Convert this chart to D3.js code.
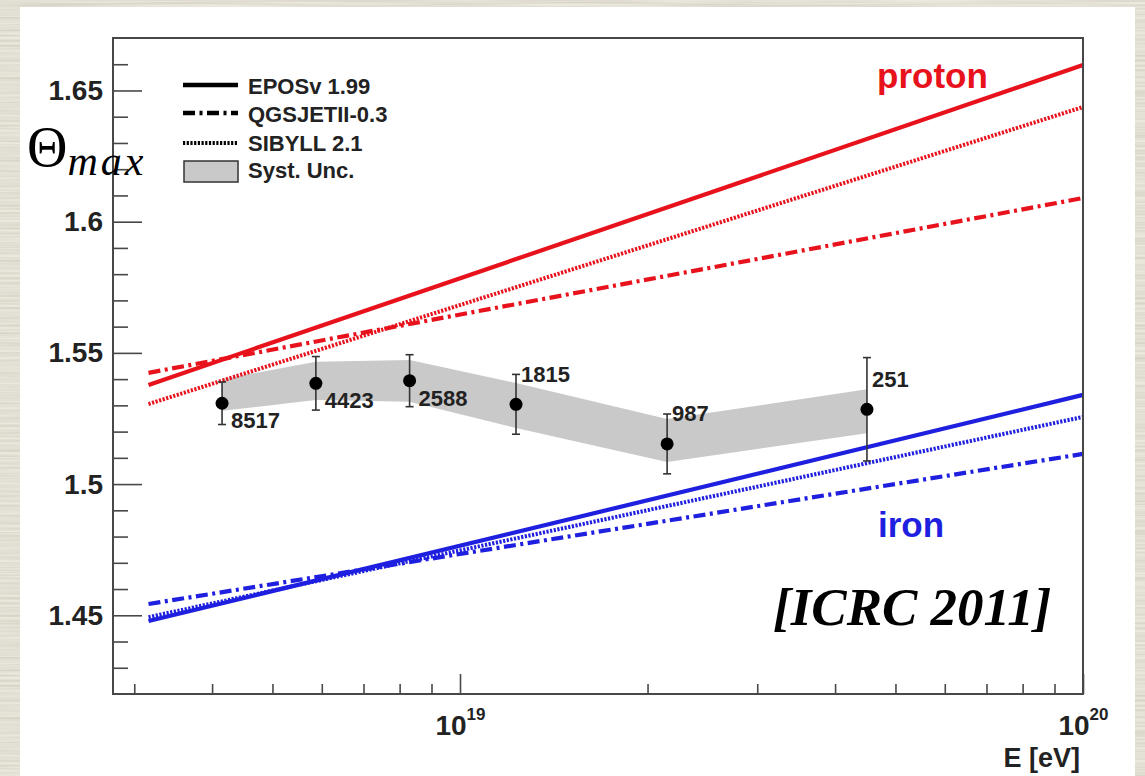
<!DOCTYPE html>
<html>
<head>
<meta charset="utf-8">
<script src="https://cdn.jsdelivr.net/npm/d3@7"></script>
<style>
  html, body { margin: 0; padding: 0; background: #e9e6dc; }
  svg { display: block; }
</style>
</head>
<body>
<svg id="chart" width="1145" height="776"></svg>
<script>
// Measured Theta_max per energy bin, with statistical and systematic uncertainties
const energies    = [4.15e18, 5.87e18, 8.3e18, 1.23e19, 2.15e19, 4.5e19];
const thetaMax    = [1.5308, 1.5384, 1.5394, 1.5304, 1.5153, 1.5285];
const statErr     = [0.0081, 0.0102, 0.0099, 0.0114, 0.0114, 0.0197];
const eventCounts = ["8517", "4423", "2588", "1815", "987", "251"];
const systLow     = [1.5279, 1.5320, 1.5314, 1.5214, 1.5084, 1.5194];
const systHigh    = [1.5400, 1.5466, 1.5473, 1.5385, 1.5248, 1.5361];

// Model predictions, straight in log E between the two end energies
const modelEnergy   = [Math.pow(10, 18.5), 1e20];
const protonEPOS    = [1.5378, 1.6597];
const protonQGSJET  = [1.5424, 1.6090];
const protonSIBYLL  = [1.5305, 1.6437];
const ironEPOS      = [1.4478, 1.5340];
const ironQGSJET    = [1.4543, 1.5115];
const ironSIBYLL    = [1.4493, 1.5256];

const legendLabels   = ["EPOSv 1.99", "QGSJETII-0.3", "SIBYLL 2.1", "Syst. Unc."];
const yMajorTicks    = [1.45, 1.5, 1.55, 1.6, 1.65];
const yTickLabels    = ["1.45", "1.5", "1.55", "1.6", "1.65"];
const yMinorTicks    = [1.43, 1.44, 1.46, 1.47, 1.48, 1.49, 1.51, 1.52, 1.53, 1.54,
                        1.56, 1.57, 1.58, 1.59, 1.61, 1.62, 1.63, 1.64, 1.66];
const xMajorTicks    = [1e19, 1e20];
const xTickExponents = ["19", "20"];
const xMinorTicks    = [3e18, 4e18, 5e18, 6e18, 7e18, 8e18, 9e18,
                        2e19, 3e19, 4e19, 5e19, 6e19, 7e19, 8e19, 9e19];

const RED = "#e8121c", BLUE = "#1f1fe0", INK = "#222", FRAME = "#484848";
const SANS = "'Liberation Sans', Arial, Helvetica, sans-serif";
const SERIF = "'Liberation Serif', 'Times New Roman', serif";

const svg = d3.select("#chart");
const W = 1145, H = 776;

// linen-like backdrop
const defs = svg.append("defs");
const f = defs.append("filter").attr("id", "linen")
  .attr("x", 0).attr("y", 0).attr("width", "100%").attr("height", "100%");
f.append("feTurbulence").attr("type", "fractalNoise")
  .attr("baseFrequency", "0.006 0.4").attr("numOctaves", 2).attr("seed", 7);
f.append("feColorMatrix").attr("type", "matrix")
  .attr("values", "0 0 0 0 0.45  0 0 0 0 0.42  0 0 0 0 0.34  0.8 0 0 0 -0.25");
svg.append("rect").attr("width", W).attr("height", H).attr("fill", "#ebe8de");
svg.append("rect").attr("width", W).attr("height", H).attr("filter", "url(#linen)");

// white card
svg.append("rect").attr("x", 20).attr("y", 7).attr("width", 1115).attr("height", 775)
  .attr("fill", "#ffffff");

const plot = { left: 113, right: 1083, top: 38, bottom: 694 };
const x = d3.scaleLog().domain([Math.pow(10, 18.443), 1e20]).range([plot.left, plot.right]);
const y = d3.scaleLinear().domain([1.42, 1.67]).range([plot.bottom, plot.top]);

const g = svg.append("g");

// systematic uncertainty band
const band = d3.area()
  .x((d, i) => x(energies[i]))
  .y0((d, i) => y(systLow[i]))
  .y1((d, i) => y(systHigh[i]));
g.append("path").datum(energies).attr("d", band).attr("fill", "#c9c9c9");

// model lines
const DASHDOT = "12,4.5,3,4.5";
const DOTTED = "2.2,1.5";
const models = [
  { v: protonEPOS,   color: RED,  dash: null,    w: 4.2 },
  { v: protonSIBYLL, color: RED,  dash: DOTTED,  w: 4 },
  { v: protonQGSJET, color: RED,  dash: DASHDOT, w: 4.2 },
  { v: ironEPOS,     color: BLUE, dash: null,    w: 4.2 },
  { v: ironSIBYLL,   color: BLUE, dash: DOTTED,  w: 4 },
  { v: ironQGSJET,   color: BLUE, dash: DASHDOT, w: 4.2 }
];
const line = d3.line().x(d => x(d[0])).y(d => y(d[1]));
models.forEach(m => {
  g.append("path")
    .datum(modelEnergy.map((e, i) => [e, m.v[i]]))
    .attr("d", line)
    .attr("fill", "none")
    .attr("stroke", m.color)
    .attr("stroke-width", m.w)
    .attr("stroke-dasharray", m.dash);
});

// data points with statistical error bars
const pts = g.append("g");
energies.forEach((e, i) => {
  const cx = x(e), lo = y(thetaMax[i] - statErr[i]), hi = y(thetaMax[i] + statErr[i]);
  pts.append("line").attr("x1", cx).attr("x2", cx).attr("y1", lo).attr("y2", hi)
    .attr("stroke", "#333").attr("stroke-width", 1.6);
  [lo, hi].forEach(yy => pts.append("line")
    .attr("x1", cx - 4).attr("x2", cx + 4).attr("y1", yy).attr("y2", yy)
    .attr("stroke", "#333").attr("stroke-width", 1.6));
  pts.append("circle").attr("cx", cx).attr("cy", y(thetaMax[i])).attr("r", 6.5)
    .attr("fill", "#000");
  const below = i < 3;
  pts.append("text")
    .attr("x", cx + (below ? 9 : 5))
    .attr("y", y(thetaMax[i]) + (below ? 25 : -22.5))
    .attr("font-family", SANS).attr("font-weight", "bold").attr("font-size", 22)
    .attr("fill", INK)
    .text(eventCounts[i]);
});

// frame
svg.append("rect")
  .attr("x", plot.left).attr("y", plot.top)
  .attr("width", plot.right - plot.left).attr("height", plot.bottom - plot.top)
  .attr("fill", "none").attr("stroke", FRAME).attr("stroke-width", 2);

function styleAxis(sel) {
  sel.select(".domain").remove();
  sel.selectAll(".tick line").attr("stroke", FRAME).attr("stroke-width", 1.6);
  sel.selectAll(".tick text")
    .attr("font-family", SANS).attr("font-weight", "bold").attr("font-size", 28)
    .attr("fill", INK);
}

// y axis: ticks point into the frame
svg.append("g").attr("transform", `translate(${plot.left},0)`)
  .call(d3.axisLeft(y).tickValues(yMinorTicks).tickSize(-15).tickFormat(""))
  .call(styleAxis);
svg.append("g").attr("transform", `translate(${plot.left},0)`)
  .call(d3.axisLeft(y).tickValues(yMajorTicks).tickSize(-29).tickPadding(10)
    .tickFormat((d, i) => yTickLabels[i]))
  .call(styleAxis);

// x axis (log)
svg.append("g").attr("transform", `translate(0,${plot.bottom})`)
  .call(d3.axisBottom(x).tickValues(xMinorTicks).tickSize(-10).tickFormat(""))
  .call(styleAxis);
const xMaj = svg.append("g").attr("transform", `translate(0,${plot.bottom})`)
  .call(d3.axisBottom(x).tickValues(xMajorTicks).tickSize(-20).tickFormat(""))
  .call(styleAxis);
xMaj.selectAll(".tick").append("text")
  .attr("y", 41).attr("text-anchor", "middle")
  .attr("font-family", SANS).attr("font-weight", "bold").attr("font-size", 28)
  .attr("fill", INK)
  .each(function (d, i) {
    const t = d3.select(this);
    t.append("tspan").text("10");
    t.append("tspan").attr("dy", -15).attr("font-size", 17).text(xTickExponents[i]);
  });

svg.append("text").attr("x", 1080).attr("y", 767).attr("text-anchor", "end")
  .attr("font-family", SANS).attr("font-weight", "bold").attr("font-size", 27)
  .attr("fill", INK).text("E [eV]");

// y title
const yt = svg.append("text").attr("x", 27).attr("y", 166)
  .attr("font-family", SERIF).attr("fill", "#000");
yt.append("tspan").attr("font-size", 56).text("Θ");
yt.append("tspan").attr("font-size", 42).attr("font-style", "italic")
  .attr("dy", 9).attr("letter-spacing", 3).text("max");

// legend
const legY = [85, 113, 143];
const legStyles = [
  { dash: null, w: 4.5 },
  { dash: DASHDOT, w: 4.5 },
  { dash: DOTTED, w: 4 }
];
legStyles.forEach((s, i) => {
  svg.append("line").attr("x1", 183).attr("x2", 238).attr("y1", legY[i]).attr("y2", legY[i])
    .attr("stroke", "#000").attr("stroke-width", s.w).attr("stroke-dasharray", s.dash);
});
svg.append("rect").attr("x", 184).attr("y", 161).attr("width", 54).attr("height", 21)
  .attr("fill", "#c9c9c9").attr("stroke", "#333").attr("stroke-width", 1.5);
const legBase = [94, 122, 151, 178];
legendLabels.forEach((t, i) => {
  svg.append("text").attr("x", 248).attr("y", legBase[i])
    .attr("font-family", SANS).attr("font-weight", "bold").attr("font-size", 22)
    .attr("fill", INK).text(t);
});

// primary labels
svg.append("text").attr("x", 877).attr("y", 88)
  .attr("font-family", SANS).attr("font-weight", "bold").attr("font-size", 35)
  .attr("fill", RED).text("proton");
svg.append("text").attr("x", 878).attr("y", 537)
  .attr("font-family", SANS).attr("font-weight", "bold").attr("font-size", 35)
  .attr("fill", BLUE).text("iron");

// reference tag
svg.append("text").attr("x", 773).attr("y", 625)
  .attr("font-family", SERIF).attr("font-weight", "bold").attr("font-style", "italic")
  .attr("font-size", 53).attr("fill", "#000").text("[ICRC 2011]");
</script>
</body>
</html>
